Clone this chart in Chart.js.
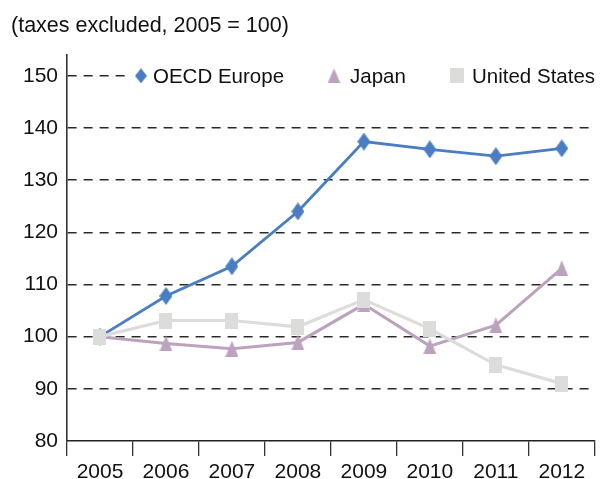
<!DOCTYPE html>
<html>
<head>
<meta charset="utf-8">
<title>Electricity prices</title>
<script src="https://cdn.jsdelivr.net/npm/chart.js@4/dist/chart.umd.min.js"></script>
<style>
  html, body { margin: 0; padding: 0; background: #fff; }
  #chart { display: block; }
</style>
</head>
<body>
<canvas id="chart" width="602" height="479"></canvas>
<script>
// Price index, taxes excluded, 2005 = 100
const years = ['2005', '2006', '2007', '2008', '2009', '2010', '2011', '2012'];
const oecdEurope = [100, 107.8, 113.5, 124.0, 137.4, 135.9, 134.6, 136.1];
const japan = [100, 98.7, 97.7, 98.9, 106.2, 98.2, 102.2, 113.1];
const unitedStates = [100, 103.1, 103.1, 101.9, 107.1, 101.5, 94.6, 91.0];
const yTicks = [80, 90, 100, 110, 120, 130, 140, 150];

const FONT = '"Liberation Sans", Arial, sans-serif';
const BLUE = '#4a7dc2';
const MAUVE = '#bba3bd';
const GREY = '#dcdcdb';

// small canvases used as point styles (markers are a bit taller than wide)
function makeMarker(shape, w, h, color) {
    const c = document.createElement('canvas');
    c.width = w;
    c.height = h;
    const g = c.getContext('2d');
    g.fillStyle = color;
    g.beginPath();
    if (shape === 'diamond') {
        g.moveTo(w / 2, 0);
        g.lineTo(w, h / 2);
        g.lineTo(w / 2, h);
        g.lineTo(0, h / 2);
    } else if (shape === 'triangle') {
        g.moveTo(w / 2, 0);
        g.lineTo(w, h);
        g.lineTo(0, h);
    } else {
        g.rect(0, 0, w, h);
    }
    g.closePath();
    g.fill();
    return c;
}

const diamond = makeMarker('diamond', 13, 18, BLUE);
const triangle = makeMarker('triangle', 13, 16, MAUVE);
const square = makeMarker('square', 13, 16, GREY);

// title above the plot, left aligned
const titlePlugin = {
    id: 'topTitle',
    afterDraw(chart) {
        const ctx = chart.ctx;
        ctx.save();
        ctx.font = '21.5px ' + FONT;
        ctx.fillStyle = '#111';
        ctx.textAlign = 'left';
        ctx.textBaseline = 'alphabetic';
        ctx.fillText('(taxes excluded, 2005 = 100)', 11, 32);
        ctx.restore();
    }
};

// legend drawn inside the plot on the 150 line, over a white band
const legendPlugin = {
    id: 'inlineLegend',
    afterDatasetsDraw(chart) {
        const ctx = chart.ctx;
        const y = chart.scales.y.getPixelForValue(150);
        const items = [
            { x: 141, tx: 153, text: 'OECD Europe', marker: makeMarker('diamond', 12, 15, BLUE) },
            { x: 334, tx: 350, text: 'Japan', marker: makeMarker('triangle', 13, 15, MAUVE) },
            { x: 457, tx: 472, text: 'United States', marker: makeMarker('square', 14, 15, GREY) }
        ];
        ctx.save();
        ctx.fillStyle = '#fff';
        ctx.fillRect(126, y - 13, chart.width - 126, 26);
        ctx.font = '20.5px ' + FONT;
        ctx.fillStyle = '#111';
        ctx.textAlign = 'left';
        ctx.textBaseline = 'middle';
        items.forEach(it => {
            ctx.drawImage(it.marker, it.x - it.marker.width / 2, y - it.marker.height / 2);
            ctx.fillText(it.text, it.tx, y + 1);
        });
        ctx.restore();
    }
};

const ctx = document.getElementById('chart').getContext('2d');
const chart = new Chart(ctx, {
    type: 'line',
    data: {
        labels: years,
        datasets: [
            {
                label: 'OECD Europe',
                data: oecdEurope,
                borderColor: BLUE,
                backgroundColor: BLUE,
                borderWidth: 2.8,
                pointStyle: diamond,
                tension: 0,
                order: 2
            },
            {
                label: 'Japan',
                data: japan,
                borderColor: MAUVE,
                backgroundColor: MAUVE,
                borderWidth: 3,
                pointStyle: triangle,
                tension: 0,
                order: 1
            },
            {
                label: 'United States',
                data: unitedStates,
                borderColor: GREY,
                backgroundColor: GREY,
                borderWidth: 3.2,
                pointStyle: square,
                tension: 0,
                order: 0
            }
        ]
    },
    options: {
        responsive: false,
        animation: false,
        events: [],
        layout: { padding: { top: 55, right: 3, left: 0, bottom: 0 } },
        plugins: {
            legend: { display: false },
            title: { display: false },
            tooltip: { enabled: false }
        },
        scales: {
            x: {
                type: 'category',
                offset: true,
                grid: {
                    offset: true,
                    drawOnChartArea: false,
                    drawTicks: true,
                    tickLength: 15,
                    color: '#333',
                    lineWidth: 1.3
                },
                border: { display: true, color: '#222', width: 1.6 },
                ticks: {
                    color: '#111',
                    font: { family: FONT, size: 21 },
                    padding: 4,
                    maxRotation: 0
                },
                afterFit(scale) { scale.height = 38; }
            },
            y: {
                min: 80,
                max: 154,
                afterBuildTicks(scale) {
                    scale.ticks = yTicks.map(v => ({ value: v }));
                },
                grid: {
                    drawTicks: false,
                    color: ctx => ctx.tick && ctx.tick.value === 80 ? 'rgba(0,0,0,0)' : '#2a2a2a',
                    lineWidth: 1.6
                },
                border: { display: true, color: '#333', width: 1.6, dash: [9, 7] },
                ticks: {
                    color: '#111',
                    font: { family: FONT, size: 21 },
                    padding: 9
                },
                afterFit(scale) { scale.width = 67; }
            }
        }
    },
    plugins: [titlePlugin, legendPlugin]
});
</script>
</body>
</html>
